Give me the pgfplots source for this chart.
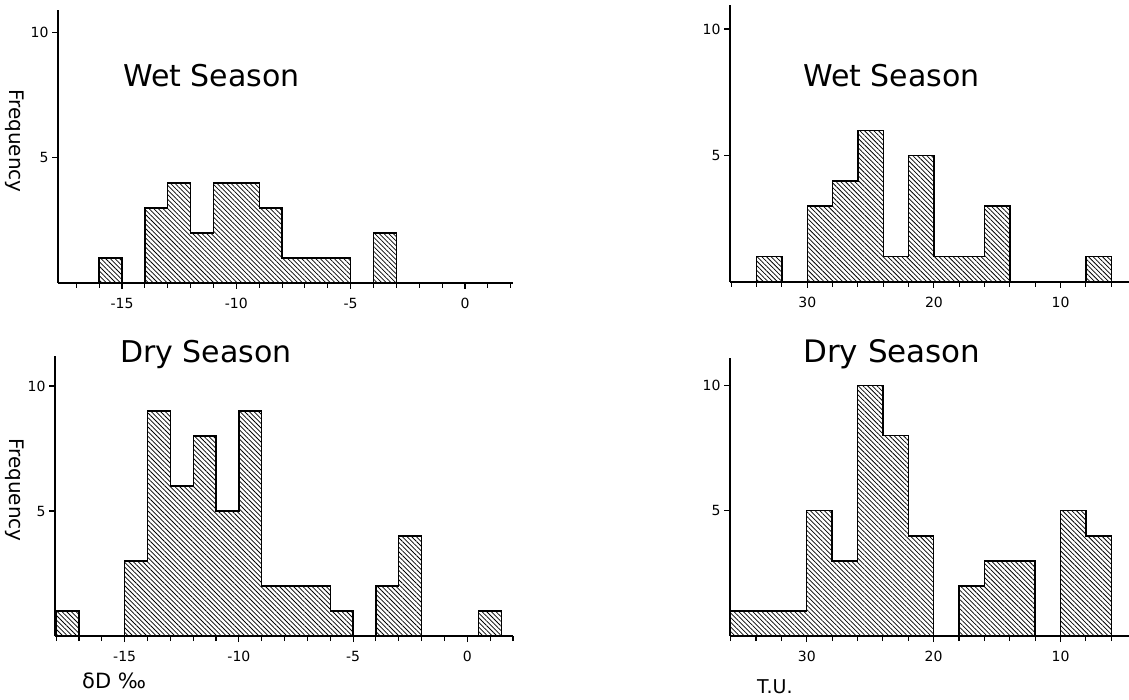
\documentclass[border=0pt]{standalone}
\usepackage{fontspec}
\setmainfont{DejaVu Sans}
\usepackage{pgfplots}
\pgfplotsset{compat=1.18}
\usetikzlibrary{patterns.meta}

\pgfplotsset{
  histo/.style={
    scale only axis,
    axis x line=bottom, axis y line=left,
    axis line style={-, line width=1.5pt},
    ymin=0, ytick={5,10},
    tick align=outside,
    major tick length=6pt, minor tick length=5pt,
    every tick/.style={black, line width=1.1pt},
    tick label style={font=\fontsize{14}{14}\selectfont},
    xticklabel style={yshift=-6pt},
    /pgf/number format/assume math mode=true,
  },
  dD/.style={xtick={-15,-10,-5,0}, minor xtick={-18,-17,...,2}},
  TU/.style={x dir=reverse, xtick={30,20,10}, minor xtick={6,8,...,36}},
  bars/.style={const plot mark left, mark=none, draw=black, line width=1.4pt,
    pattern={Lines[angle=-45,distance=3.3pt,line width=0.75pt]}},
}

\begin{document}
\begin{tikzpicture}
\useasboundingbox (0pt,0pt) rectangle (1129pt,699pt);

% delta D, wet season
\begin{axis}[histo, dD, at={(58pt,416pt)}, anchor=south west,
  width=455pt, height=273pt, xmin=-17.8, xmax=2.1, ymax=10.9,
  y axis line style={line width=2.6pt}]
\addplot[bars] coordinates {(-16,1) (-15,1)} \closedcycle;
\addplot[bars] coordinates {(-14,3) (-13,4) (-12,2) (-11,4) (-10,4) (-9,3)
  (-8,1) (-7,1) (-6,1) (-5,1)} \closedcycle;
\addplot[bars] coordinates {(-4,2) (-3,2)} \closedcycle;
\end{axis}

% delta D, dry season
\begin{axis}[histo, dD, at={(55pt,63pt)}, anchor=south west,
  width=458pt, height=280pt, xmin=-18.05, xmax=2, ymax=11.2]
\addplot[bars] coordinates {(-18,1) (-17,1)} \closedcycle;
\addplot[bars] coordinates {(-15,3) (-14,9) (-13,6) (-12,8) (-11,5) (-10,9)
  (-9,2) (-8,2) (-7,2) (-6,1) (-5,1)} \closedcycle;
\addplot[bars] coordinates {(-4,2) (-3,4) (-2,4)} \closedcycle;
\addplot[bars] coordinates {(0.5,1) (1.5,1)} \closedcycle;
\end{axis}

% tritium, wet season
\begin{axis}[histo, TU, at={(730pt,417pt)}, anchor=south west,
  width=399pt, height=277pt, xmin=4.6, xmax=36.1, ymax=10.95]
\addplot[bars] coordinates {(34,1) (32,1)} \closedcycle;
\addplot[bars] coordinates {(30,3) (28,4) (26,6) (24,1) (22,5) (20,1)
  (18,1) (16,3) (14,3)} \closedcycle;
\addplot[bars] coordinates {(8,1) (6,1)} \closedcycle;
\end{axis}

% tritium, dry season
\begin{axis}[histo, TU, at={(730pt,63pt)}, anchor=south west,
  width=399pt, height=278pt, xmin=4.6, xmax=36.05, ymax=11.1]
\addplot[bars] coordinates {(36,1) (34,1) (32,1) (30,5) (28,3) (26,10)
  (24,8) (22,4) (20,4)} \closedcycle;
\addplot[bars] coordinates {(18,2) (16,3) (14,3) (12,3)} \closedcycle;
\addplot[bars] coordinates {(10,5) (8,4) (6,4)} \closedcycle;
\end{axis}

\node[rotate=-90, inner sep=0, font=\fontsize{20}{20}\selectfont] at (15pt,558pt) {Frequency};
\node[rotate=-90, inner sep=0, font=\fontsize{20}{20}\selectfont] at (15pt,209pt) {Frequency};
\node[anchor=base west, inner sep=0, font=\fontsize{30}{30}\selectfont] at (123pt,612pt) {Wet Season};
\node[anchor=base west, inner sep=0, font=\fontsize{30}{30}\selectfont] at (803pt,612pt) {Wet Season};
\node[anchor=base west, inner sep=0, font=\fontsize{30}{30}\selectfont] at (120pt,336pt) {Dry Season};
\node[anchor=base west, inner sep=0, font=\fontsize{31}{31}\selectfont] at (803pt,336pt) {Dry Season};
\node[anchor=base west, inner sep=0, font=\fontsize{21}{21}\selectfont] at (82pt,11pt) {δD ‰};
\node[anchor=base west, inner sep=0, font=\fontsize{19}{19}\selectfont] at (757pt,6pt) {T.U.};
\end{tikzpicture}
\end{document}
